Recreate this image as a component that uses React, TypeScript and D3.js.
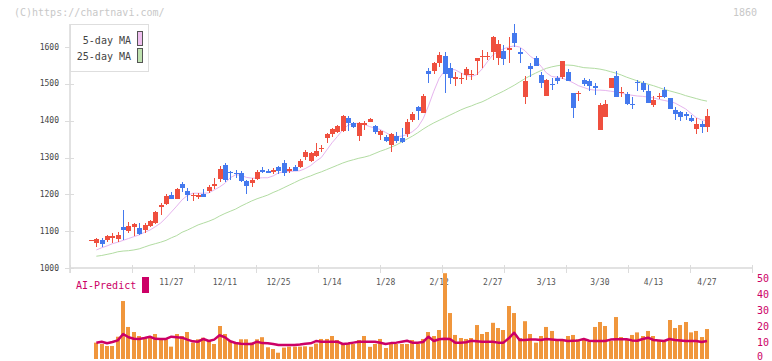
import React from 'react';
import * as d3 from 'd3';

const W = 772;
const H = 361;
const FONT = '"DejaVu Sans Mono", "Liberation Mono", monospace';

// Candles (index 0..115)
const opens = [1075,1069,1076,1076,1081,1079,1110,1100,1112,1109,1103,1115,1121,1166,1174,1198,1187,1228,1209,1198,1193,1202,1208,1222,1241,1280,1261,1259,1257,1236,1232,1242,1266,1264,1261,1275,1286,1262,1275,1275,1302,1291,1305,1323,1354,1363,1368,1372,1406,1394,1358,1389,1397,1386,1361,1355,1334,1358,1354,1363,1402,1436,1421,1535,1536,1556,1576,1542,1514,1512,1524,1523,1563,1572,1572,1587,1569,1590,1592,1637,1587,1465,1548,1571,1524,1468,1500,1517,1518,1533,1476,1472,1510,1508,1495,1375,1411,1490,1520,1474,1472,1445,1506,1501,1481,1443,1465,1483,1462,1429,1423,1418,1408,1378,1391,1384];
const highs = [1076,1081,1081,1090,1094,1097,1157,1126,1123,1123,1121,1130,1156,1176,1201,1207,1216,1234,1216,1203,1204,1214,1225,1244,1278,1286,1262,1266,1264,1239,1244,1266,1275,1268,1271,1277,1293,1275,1280,1295,1320,1316,1339,1334,1366,1379,1388,1415,1414,1397,1397,1399,1408,1388,1375,1360,1366,1370,1379,1405,1424,1440,1472,1542,1560,1587,1587,1556,1533,1529,1547,1538,1571,1592,1587,1629,1619,1605,1626,1662,1597,1521,1556,1576,1533,1512,1515,1521,1562,1540,1476,1481,1515,1512,1503,1447,1456,1515,1535,1492,1479,1465,1510,1508,1497,1467,1476,1492,1462,1436,1427,1424,1415,1406,1399,1432];
const lows = [1074,1056,1058,1070,1069,1071,1075,1094,1088,1090,1094,1112,1119,1144,1171,1187,1186,1207,1183,1183,1188,1192,1203,1214,1234,1234,1239,1244,1234,1201,1221,1239,1257,1257,1255,1255,1250,1257,1262,1271,1293,1289,1302,1316,1340,1357,1366,1370,1373,1379,1346,1375,1396,1364,1348,1343,1314,1339,1339,1357,1397,1402,1420,1503,1527,1547,1476,1500,1495,1500,1510,1510,1524,1542,1565,1565,1551,1551,1556,1601,1556,1445,1519,1549,1490,1468,1483,1500,1512,1508,1408,1454,1494,1481,1470,1375,1411,1490,1465,1465,1443,1432,1481,1479,1447,1438,1458,1461,1432,1402,1400,1402,1397,1365,1367,1370];
const closes = [1075,1079,1066,1087,1087,1090,1104,1114,1120,1092,1117,1128,1153,1171,1195,1188,1214,1217,1198,1199,1198,1193,1219,1228,1268,1239,1257,1254,1236,1223,1239,1261,1261,1259,1266,1262,1259,1269,1264,1291,1316,1311,1318,1327,1364,1377,1386,1413,1394,1384,1395,1393,1405,1368,1372,1346,1364,1346,1341,1397,1417,1427,1466,1526,1556,1578,1526,1515,1518,1515,1539,1527,1569,1575,1575,1626,1608,1567,1597,1610,1580,1508,1540,1549,1503,1510,1496,1509,1562,1509,1435,1476,1500,1495,1490,1443,1445,1515,1465,1479,1445,1444,1501,1483,1449,1456,1468,1463,1432,1419,1411,1414,1400,1391,1382,1413];

// Moving averages (index 1..115)
const ma5 = [1049,1055,1060,1066,1070,1075,1080,1085,1090,1097,1103,1112,1122,1136,1152,1168,1185,1197,1203,1203,1203,1204,1212,1220,1230,1245,1253,1252,1246,1244,1244,1245,1245,1250,1258,1261,1262,1263,1264,1270,1278,1290,1300,1320,1340,1357,1375,1388,1392,1393,1390,1384,1380,1376,1368,1360,1357,1358,1362,1370,1382,1405,1440,1480,1515,1535,1540,1538,1530,1523,1520,1525,1540,1560,1578,1588,1595,1600,1603,1600,1590,1575,1565,1548,1530,1520,1518,1515,1510,1503,1495,1490,1485,1483,1483,1482,1480,1478,1475,1471,1469,1467,1466,1464,1462,1458,1455,1452,1448,1440,1432,1420,1408,1402,1400];
const ma25 = [1032,1034,1037,1040,1044,1046,1047,1049,1052,1057,1062,1066,1070,1075,1082,1088,1097,1103,1110,1117,1122,1127,1133,1141,1148,1154,1160,1168,1175,1182,1188,1193,1198,1205,1211,1218,1225,1232,1239,1245,1250,1256,1261,1267,1273,1279,1285,1290,1294,1298,1301,1305,1311,1317,1322,1328,1334,1342,1350,1358,1367,1377,1386,1394,1401,1408,1415,1422,1429,1435,1440,1446,1451,1458,1466,1473,1480,1488,1496,1505,1514,1522,1529,1536,1542,1546,1549,1551,1551,1550,1547,1544,1543,1542,1540,1537,1533,1529,1524,1518,1513,1508,1503,1499,1495,1490,1485,1481,1477,1473,1468,1464,1460,1456,1453];

// AI-Predict (index 1..115)
const aiBars = [9.6,8.75,7.5,7.5,13.3,35.6,19.4,16.25,13.75,12.7,12.7,15,11.7,11.7,7.1,15,13.75,16.25,9.6,11.7,12.7,10.6,8.75,20,15,10.6,9.6,11.7,11.7,9.6,11.7,13,6.7,5.6,3.3,6.5,7.1,7.1,7.1,7.3,7,9,11.9,11.9,13.75,11.25,8.75,8.75,8.75,11.25,13.75,7,8.75,11.9,6.25,8.75,8.75,8.75,8.75,11.25,8.75,11.9,16.25,13.75,17.5,53,28.1,14.4,12.5,11.9,12.5,20.6,15,16.25,22,18.75,17.5,32.5,28.1,12.5,23,15,9.6,13.75,19.4,16.9,11.7,11.7,13.75,14.4,11.7,11.7,10.2,19.4,22.5,20,10.6,25.6,13.1,11.9,14.4,16,13.75,16.9,13.75,10.6,10,23.75,18.75,20.6,22.5,16,16.9,13.1,18.1];
const aiLine = [9.5,10.2,9.2,10,11,15,13,12,11.9,12.5,13.3,12,11.9,11.9,13.3,13,12.7,11.5,10.4,10.2,11.9,10.6,11.5,14.2,13,10.5,9.4,8.9,8.75,8.75,10.2,9.3,9.2,8.7,8.1,8.1,8.1,8.1,8.4,8.9,9.2,10.6,10.2,10.2,10.2,10.2,8.75,9,9.6,10.2,10.2,10.2,10.2,9.5,8.75,9.3,9.6,10.2,10.8,9.6,9.6,10,13.3,10.6,11.7,12,11.9,9.6,9.6,9.8,10.8,10.5,10.2,10.2,10.2,9.6,9.6,12.3,15.8,11.25,11.25,11.5,11.5,11.25,11.9,11.6,11.25,11.25,10.6,10.8,11,11.9,10.8,10.6,10.6,10.6,11.5,11.7,11.7,11.7,11,10.8,11.9,12.7,11.25,11,10.6,11.9,11.2,11,10.6,10.6,10.6,10,10.6];

const dateLabels = ['11/27','12/11','12/25','1/14','1/28','2/12','2/27','3/13','3/30','4/13','4/27'];
const dateIndex = [15,25,35,45,55,65,75,85,95,105,115];
const priceTicks = [1000,1100,1200,1300,1400,1500,1600];
const aiTicks = [0,10,20,30,40,50];

const UP = '#ef4f3e';
const DOWN = '#4479ee';

export default function App() {
  const n = closes.length;
  const x = d3.scaleLinear().domain([0, n - 1]).range([91, 707]);
  const y = d3.scaleLinear().domain([1000, 1600]).range([268, 47]);
  const yAi = d3.scaleLinear().domain([0, 50]).range([358, 278]);
  const gridX = d3.scaleLinear().domain([0, 11]).range([70, 752]);

  const maLine = d3.line<number>().x((_, i) => x(i + 1)).y((v) => y(v));
  const aiPath = d3.line<number>().x((_, i) => x(i + 1)).y((v) => yAi(v)).curve(d3.curveLinear);

  return (
    <svg width={W} height={H} style={{ position: 'absolute', left: 0, top: 0, background: '#fff' }} fontFamily={FONT}>
      <rect x={0} y={0} width={W} height={H} fill="#fff" />
      <text x={14} y={16} fontSize={10} fill="#c8c8c8">(C)https://chartnavi.com/</text>
      <text x={757} y={16} fontSize={10} fill="#c8c8c8" textAnchor="end">1860</text>

      {/* axes */}
      <line x1={70} x2={70} y1={24} y2={273} stroke="#e2e2e2" strokeWidth={2} />
      <line x1={70} x2={752} y1={268} y2={268} stroke="#e2e2e2" strokeWidth={2} />
      {d3.range(12).map((k) => (
        <line key={'xt' + k} x1={Math.round(gridX(k)) + 0.5} x2={Math.round(gridX(k)) + 0.5} y1={265} y2={273} stroke="#dcdcdc" strokeWidth={1} />
      ))}
      {priceTicks.map((t) => (
        <g key={'yt' + t}>
          <line x1={65} x2={74} y1={Math.round(y(t)) + 0.5} y2={Math.round(y(t)) + 0.5} stroke="#dcdcdc" strokeWidth={1} />
          <text x={59} y={y(t)} dy="0.33em" fontSize={8} fill="#444" textAnchor="end">{t}</text>
        </g>
      ))}

      {/* moving averages */}
      <path d={maLine(ma25) || ''} fill="none" stroke="#b2dca2" strokeWidth={1} />
      <path d={maLine(ma5) || ''} fill="none" stroke="#e6b4ee" strokeWidth={1} />

      {/* candles */}
      {closes.map((c, i) => {
        const o = opens[i];
        const up = c >= o;
        const col = up ? UP : DOWN;
        const cx = Math.round(x(i));
        const top = Math.round(y(Math.max(o, c)));
        const bot = Math.round(y(Math.min(o, c)));
        const hy = Math.round(y(highs[i]));
        const ly = Math.round(y(lows[i]));
        return (
          <g key={'c' + i}>
            <rect x={cx} y={hy} width={1} height={Math.max(1, ly - hy)} fill={col} />
            <rect x={cx - 2} y={top} width={5} height={Math.max(1, bot - top)} fill={col} />
          </g>
        );
      })}

      {/* legend */}
      <rect x={70.5} y={24.5} width={78} height={47} fill="#fff" stroke="#dedede" strokeWidth={1} />
      <text x={131} y={44} fontSize={10} fill="#444" textAnchor="end">5-day MA</text>
      <rect x={137.5} y={31.5} width={5} height={14} fill="#f0c0f0" stroke="#555" strokeWidth={1} />
      <text x={131} y={60} fontSize={10} fill="#444" textAnchor="end">25-day MA</text>
      <rect x={137.5} y={48.5} width={5} height={14} fill="#bfe2b0" stroke="#555" strokeWidth={1} />

      {/* date labels */}
      {dateLabels.map((d, k) => (
        <text key={'d' + k} x={x(dateIndex[k])} y={285} fontSize={8} fill="#555" textAnchor="middle">{d}</text>
      ))}

      {/* AI predict */}
      <text x={76} y={289} fontSize={10} fill="#cc0066">AI-Predict</text>
      <rect x={142} y={277} width={7} height={16} fill="#cc0066" />
      {aiBars.map((v, k) => {
        const cx = Math.round(x(k + 1));
        const top = yAi(v);
        return <rect key={'a' + k} x={cx - 2} y={top} width={4} height={yAi(0) - top + 1} fill="#f0963c" />;
      })}
      <path d={aiPath(aiLine) || ''} fill="none" stroke="#cc0066" strokeWidth={2.5} strokeLinejoin="round" />
      {aiTicks.map((t) => (
        <text key={'at' + t} x={757} y={Math.min(yAi(t) + 3.5, 359.5)} fontSize={10} fill="#cc0066">{t}</text>
      ))}
    </svg>
  );
}
